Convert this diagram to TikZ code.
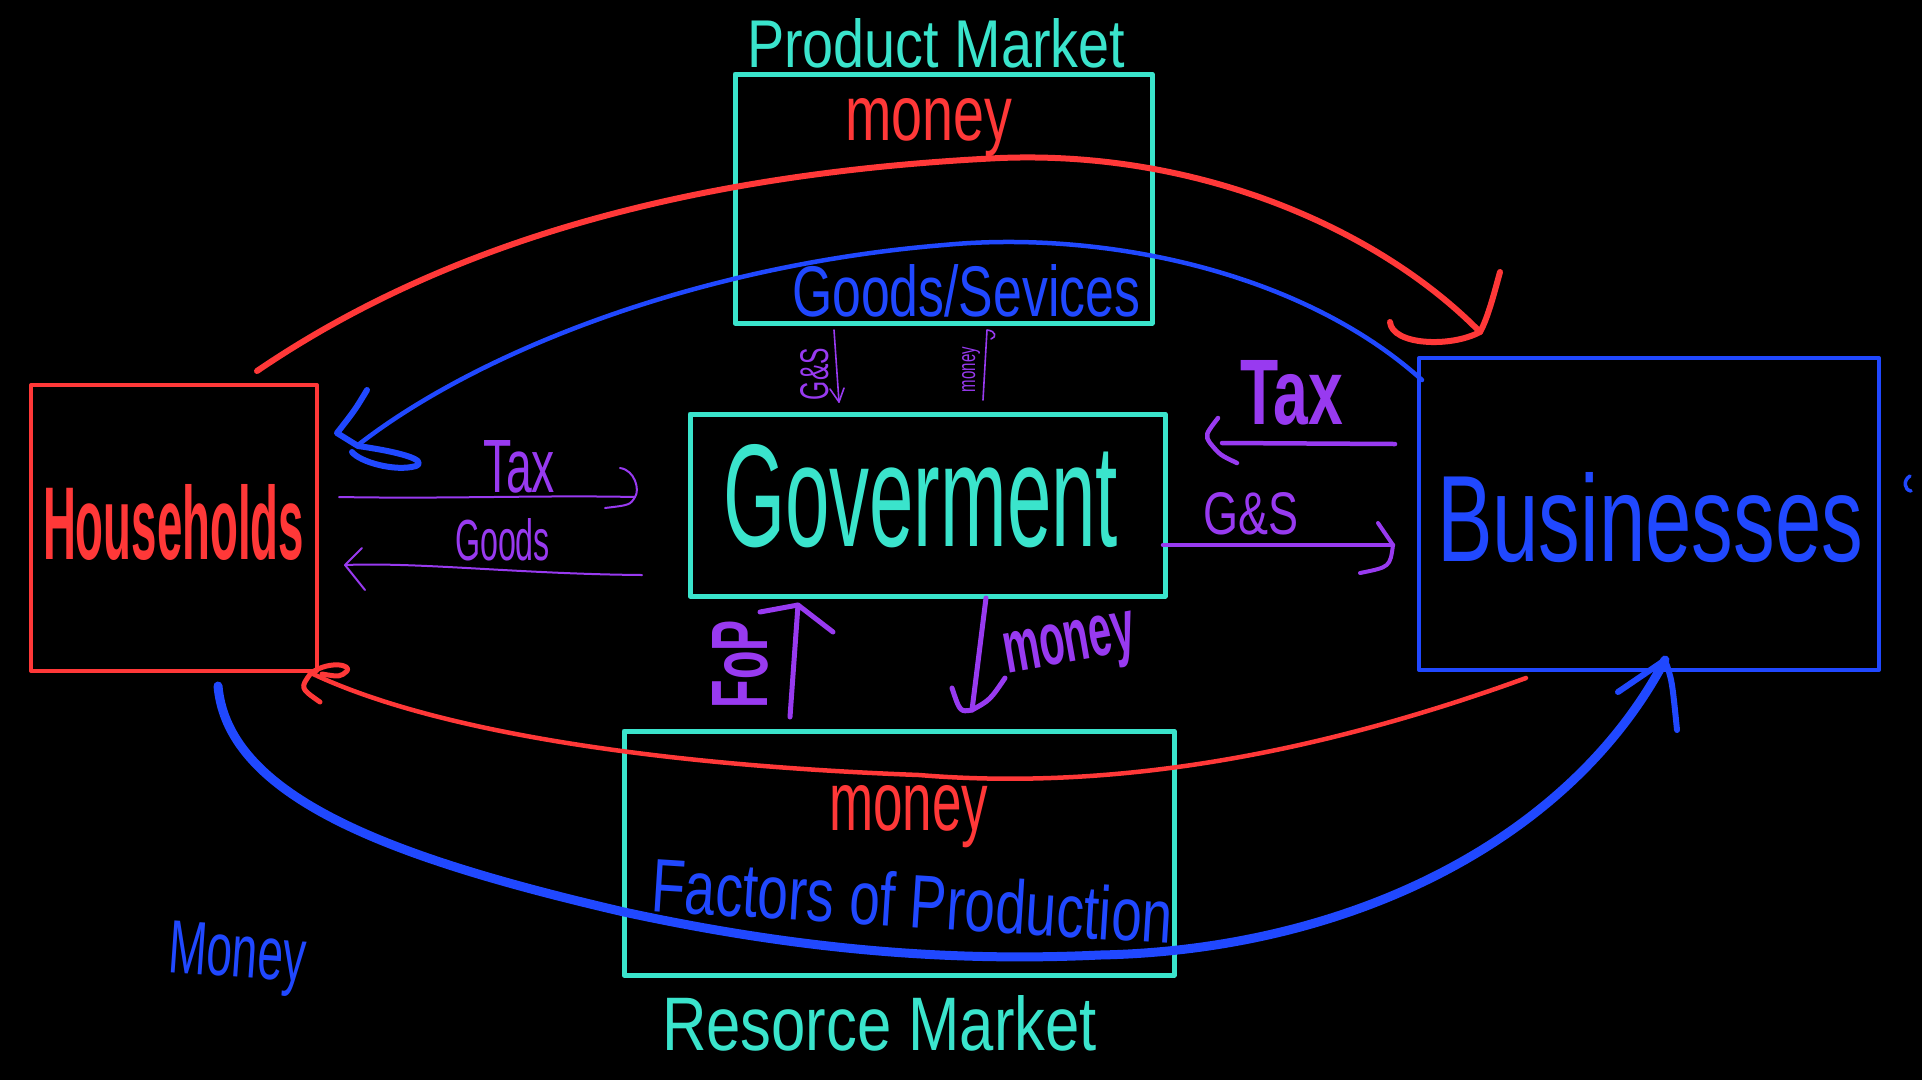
\documentclass[tikz,border=0pt]{standalone}
\usepackage{fontspec}
\setmainfont{Liberation Sans}
\usepackage{graphicx}
\definecolor{hred}{RGB}{255,56,56}
\definecolor{hblue}{RGB}{32,72,255}
\definecolor{hteal}{RGB}{58,228,204}
\definecolor{hpurple}{RGB}{152,58,240}
\newcommand{\hw}[3]{\resizebox{#1pt}{#2pt}{#3}}
\tikzset{
  hand/.style={anchor=base west, inner sep=0pt, outer sep=0pt},
  boxnode/.style={draw, inner sep=0pt, outer sep=0pt},
  tealbox/.style={boxnode, draw=hteal, line width=5pt},
  redbox/.style={boxnode, draw=hred, line width=4pt},
  bluebox/.style={boxnode, draw=hblue, line width=4pt},
  thinpurple/.style={draw=hpurple, line width=2pt},
  tinypurple/.style={draw=hpurple, line width=1.6pt},
  thickpurple/.style={draw=hpurple, line width=5pt},
}
\begin{document}
\begin{tikzpicture}[x=1pt,y=-1pt,line cap=round,line join=round]
\useasboundingbox (0,0) rectangle (1922,1080);
\fill[black] (0,0) rectangle (1922,1080);

% boxes
\node[tealbox, minimum width=417pt, minimum height=249pt] (pm) at (943.5,198.5) {};
\node[tealbox, minimum width=475pt, minimum height=182pt] (gov) at (927.5,505) {};
\node[tealbox, minimum width=550pt, minimum height=244pt] (rm) at (899,853) {};
\node[redbox, minimum width=286pt, minimum height=286pt] (hh) at (174,528) {};
\node[bluebox, minimum width=460pt, minimum height=312pt] (bz) at (1649,514) {};

% texts
\node[hand, text=hteal] (tpm) at (747,67) {\hw{378}{49}{Product Market}};
\node[hand, text=hred] (tpmmoney) at (845,140) {\hw{167}{42}{money}};
\node[hand, text=hblue] (tgs) at (792,316) {\hw{348}{52}{Goods/Sevices}};
\node[hand, text=hteal] (tgov) at (723,546) {\hw{395}{102}{Goverment}};
\node[hand, text=hred] (thh) at (43,559) {\hw{261}{75}{\bfseries Households}};
\node[hand, text=hblue] (tbz) at (1437,561) {\hw{426}{89}{Businesses}};
\node[hand, text=hred] (trmmoney) at (829,830) {\hw{159}{45}{money}};
\node[hand, text=hblue, rotate=-3.6] (tfop) at (650,911) {\hw{522}{55}{Factors of Production}};
\node[hand, text=hteal] (trm) at (662,1050) {\hw{435}{55}{Resorce Market}};
\node[hand, text=hblue, rotate=-4] (tmoney) at (167,972) {\hw{138}{52}{Money}};
\node[hand, text=hpurple] (ttaxl) at (483,492) {\hw{72}{52}{Tax}};
\node[hand, text=hpurple] (tgoodsl) at (455,560) {\hw{95}{42}{Goods}};
\node[hand, text=hpurple] (ttaxr) at (1240,424) {\hw{103}{64}{\bfseries Tax}};
\node[hand, text=hpurple] (tgsr) at (1203,534) {\hw{95}{42}{G\&S}};
\node[hand, text=hpurple, rotate=90] (tgss) at (828,400) {\hw{52}{28}{G\&S}};
\node[hand, text=hpurple, rotate=90] (tmoneys) at (975,392) {\hw{45}{13}{money}};
\node[hand, text=hpurple, rotate=90] (tfopv) at (767,708) {\hw{88}{55}{\bfseries FoP}};
\node[hand, text=hpurple, rotate=10] (tmoneyg) at (1007,673) {\hw{133}{40}{\bfseries money}};

% coordinates for connectors
\coordinate (rt0) at (257,371);
\coordinate (rt1) at (1000,158);
\coordinate (rt2) at (1480,332);
\coordinate (bt0) at (1422,380);
\coordinate (bt1) at (944,245);
\coordinate (bt2) at (358,445);
\coordinate (rb0) at (1526,678);
\coordinate (rb1) at (919,775);
\coordinate (rb2) at (311,673);
\coordinate (bb0) at (218,686);
\coordinate (bb1) at (624,912);
\coordinate (bb2) at (1100,955);
\coordinate (bb3) at (1665,660);

% red top arc
\draw[hred, line width=6pt] (rt0) .. controls (420,260) and (650,175) .. (rt1)
  .. controls (1200,150) and (1380,230) .. (rt2);
\draw[hred, line width=6pt] (1390,322) .. controls (1392,345) and (1450,348) .. (rt2)
  .. controls (1488,318) and (1495,290) .. (1500,272);
% blue top arc
\draw[hblue, line width=4.5pt] (bt0) .. controls (1300,270) and (1100,230) .. (bt1)
  .. controls (700,265) and (480,350) .. (bt2);
\draw[hblue, line width=6pt] (367,390) .. controls (355,410) .. (337,433) -- (358,446)
  .. controls (400,452) and (428,460) .. (416,466) .. controls (395,472) and (360,462) .. (352,452);
% red lower arc
\draw[hred, line width=4.5pt] (rb0) .. controls (1300,760) and (1100,790) .. (rb1)
  .. controls (650,765) and (430,730) .. (rb2);
\draw[hred, line width=5pt] (320,702) .. controls (300,688) .. (rb2)
  .. controls (330,660) and (352,665) .. (347,671) .. controls (340,677) .. (322,674);
% blue lower thick arc
\draw[hblue, line width=9pt] (bb0) .. controls (228,800) and (400,860) .. (bb1)
  .. controls (800,950) and (950,962) .. (bb2)
  .. controls (1350,950) and (1570,840) .. (bb3);
\draw[hblue, line width=6pt] (1618,692) -- (bb3) .. controls (1672,680) .. (1677,730);
% stray mark
\draw[hblue, line width=3.5pt] (1910,476) .. controls (1903,480) and (1904,490) .. (1911,491);

% purple arrows
\coordinate (ptl0) at (339,497);
\coordinate (ptl1) at (635,497);
\draw[thinpurple] (ptl0) .. controls (450,499) and (540,495) .. (ptl1);
\draw[thinpurple] (620,468) .. controls (635,470) and (640,490) .. (ptl1) .. controls (630,505) .. (605,508);
\coordinate (pgl0) at (642,575);
\coordinate (pgl1) at (345,565);
\draw[thinpurple] (pgl0) .. controls (520,574) and (420,562) .. (pgl1);
\draw[thinpurple] (362,548) -- (pgl1) -- (365,590);
\coordinate (ptr0) at (1395,444);
\coordinate (ptr1) at (1222,443);
\draw[thickpurple, line width=4.5pt] (ptr0) -- (ptr1);
\draw[thickpurple, line width=4.5pt] (1218,418) .. controls (1205,435) .. (1210,443) .. controls (1220,455) .. (1237,463);
\coordinate (pgr0) at (1163,545);
\coordinate (pgr1) at (1393,545);
\draw[thickpurple, line width=4.5pt] (pgr0) -- (pgr1);
\draw[thickpurple, line width=4pt] (1378,523) -- (pgr1) .. controls (1390,567) .. (1360,573);
\coordinate (pgs0) at (834,330);
\coordinate (pgs1) at (839,402);
\draw[tinypurple] (pgs0) -- (pgs1);
\draw[tinypurple] (830,389) -- (pgs1) -- (844,388);
\coordinate (pms0) at (983,400);
\coordinate (pms1) at (987,330);
\draw[tinypurple] (pms0) -- (pms1) .. controls (996,331) and (997,337) .. (991,339);
\coordinate (pfop0) at (790,717);
\coordinate (pfop1) at (798,605);
\draw[thickpurple] (pfop0) -- (pfop1) -- (833,632);
\draw[thickpurple] (760,612) -- (pfop1);
\coordinate (pmg0) at (986,598);
\coordinate (pmg1) at (972,710);
\draw[thickpurple] (pmg0) -- (pmg1);
\draw[thickpurple] (952,688) .. controls (960,712) .. (pmg1) .. controls (990,700) .. (1005,678);
\end{tikzpicture}
\end{document}
